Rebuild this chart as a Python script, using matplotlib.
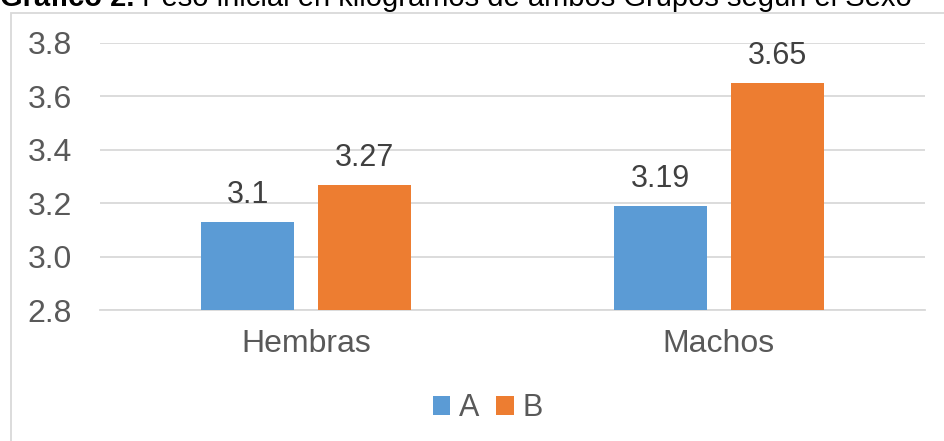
import numpy as np
import matplotlib.pyplot as plt
from matplotlib.patches import Rectangle

plt.rcParams['font.family'] = ['Liberation Sans', 'DejaVu Sans']

# Datos del gráfico
sexo = ['Hembras', 'Machos']
grupo_a = [3.13, 3.19]
grupo_b = [3.27, 3.65]
etiquetas_a = ['3.1', '3.19']
etiquetas_b = ['3.27', '3.65']
yticks = [2.8, 3.0, 3.2, 3.4, 3.6, 3.8]

color_a = '#5B9BD5'
color_b = '#ED7D31'
texto = '#404040'
gris = '#D9D9D9'

W, H = 945, 441
fig = plt.figure(figsize=(W/100, H/100), dpi=100)
ax = fig.add_axes([100/W, 1 - 310/H, 825/W, 267/H])

x = np.arange(len(sexo))
width = 0.225
off = 0.142

bars_a = ax.bar(x - off, [v - 2.8 for v in grupo_a], width, bottom=2.8, color=color_a, label='A', zorder=3)
bars_b = ax.bar(x + off, [v - 2.8 for v in grupo_b], width, bottom=2.8, color=color_b, label='B', zorder=3)

# etiquetas de datos encima de cada barra
for bars, labs in [(bars_a, etiquetas_a), (bars_b, etiquetas_b)]:
    for b, lab in zip(bars, labs):
        ax.annotate(lab, (b.get_x() + b.get_width()/2, b.get_y() + b.get_height()),
                    xytext=(0, 12), textcoords='offset pixels',
                    ha='center', va='bottom', fontsize=22, color=texto)

ax.set_xlim(-0.5, 1.5)
ax.set_ylim(2.8, 3.8)
ax.set_yticks(yticks)
ax.set_yticklabels([f'{t:.1f}' for t in yticks])
ax.set_xticks(x)
ax.set_xticklabels(sexo)
ax.tick_params(axis='both', length=0, labelsize=23, labelcolor='#595959')
ax.tick_params(axis='y', pad=20)
ax.tick_params(axis='x', pad=14)
ax.grid(True, axis='y', color=gris, linewidth=1.3, zorder=0)
for s in ['top', 'right', 'left']:
    ax.spines[s].set_visible(False)
ax.spines['bottom'].set_color(gris)
ax.spines['bottom'].set_linewidth(1.3)
ax.set_axisbelow(True)

leg = fig.legend(handles=[bars_a, bars_b], labels=['A', 'B'], loc='center',
                 bbox_to_anchor=(488/W, 1 - 408/H), ncol=2, frameon=False,
                 fontsize=22, handlelength=0.56, handleheight=0.56, handletextpad=0.3,
                 columnspacing=0.55, labelcolor='#595959', borderpad=0)

# marco del área del gráfico
fig.patches.append(Rectangle((11/W, -0.05), 1.0, 1 - 12.5/H + 0.05, transform=fig.transFigure,
                             fill=False, edgecolor=gris, linewidth=1.3))

# título (cortado en la parte superior, como en el original)
base_y = 1 - 6.5/H
t1 = fig.text(0.0, base_y, 'Gráfico 2.', fontsize=21, fontweight='bold', color='black', va='baseline')
fig.canvas.draw()
bb = t1.get_window_extent()
fig.text(bb.x1 / fig.bbox.width, base_y, ' Peso inicial en kilogramos de ambos Grupos según el Sexo',
         fontsize=21, color='black', va='baseline')

fig.savefig('out.png', dpi=100)
